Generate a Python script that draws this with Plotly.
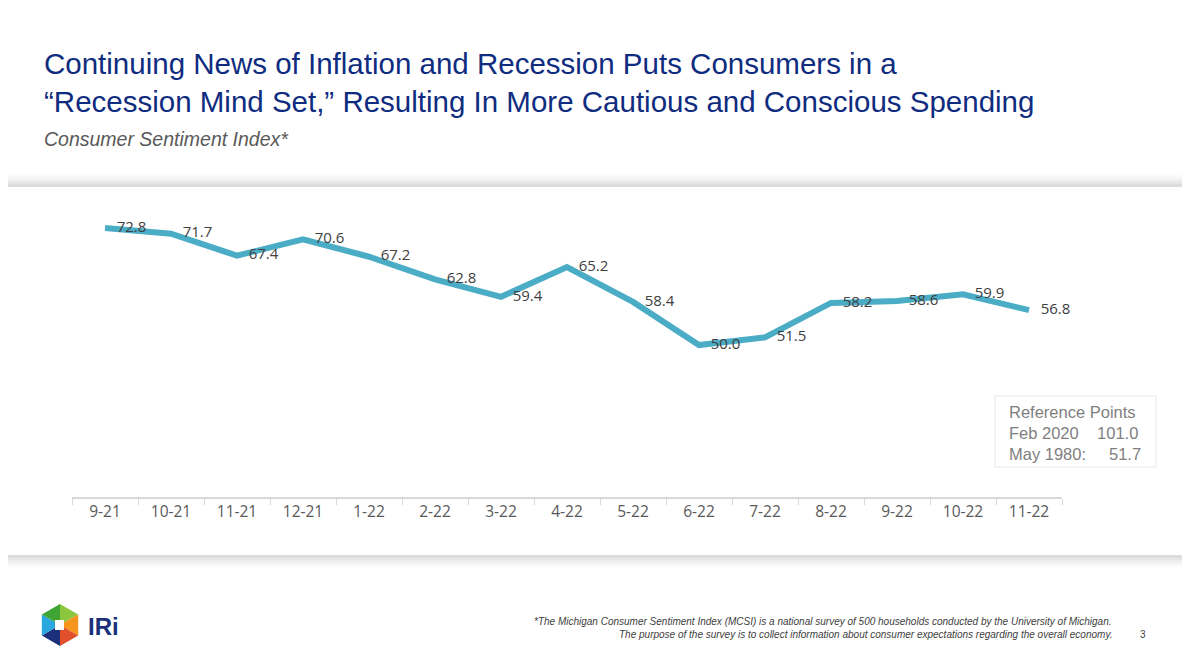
import plotly.graph_objects as go
import math

months = ["9-21","10-21","11-21","12-21","1-22","2-22","3-22","4-22","5-22","6-22","7-22","8-22","9-22","10-22","11-22"]
values = [72.8,71.7,67.4,70.6,67.2,62.8,59.4,65.2,58.4,50.0,51.5,58.2,58.6,59.9,56.8]
ref_labels = ["Reference Points", "Feb 2020&nbsp;&nbsp;&nbsp;&nbsp;101.0", "May 1980:&nbsp;&nbsp;&nbsp;&nbsp;&nbsp;51.7"]

W, H = 1174, 654
OFF = 8
def px(x): return (x - OFF) / W
def py(y): return 1 - (y - OFF) / H

fig = go.Figure()
fig.add_trace(go.Scatter(
    x=months, y=values, mode="lines+text",
    line=dict(color="#4BACC6", width=6),
    text=["\u00a0\u00a0\u00a0" + f"{v:.1f}" for v in values], textposition="middle right",
    textfont=dict(family="Open Sans", size=15, color="#404040"),
    cliponaxis=False, hoverinfo="skip"))

shapes = []
for i, op in enumerate([0.012, 0.015, 0.02, 0.025, 0.03, 0.035]):
    d = 12 - 2 * i
    shapes.append(dict(type="rect", xref="paper", yref="paper", x0=px(-10), x1=px(W + 20),
                       y0=py(556 + d), y1=py(186 - d), fillcolor="rgba(0,0,0,%s)" % op,
                       line=dict(width=0), layer="below"))
shapes.append(dict(type="rect", xref="paper", yref="paper", x0=px(-10), x1=px(W + 20),
                   y0=py(555), y1=py(187), fillcolor="white", line=dict(width=0), layer="below"))
shapes.append(dict(type="rect", xref="paper", yref="paper", x0=px(995), x1=px(1156),
                   y0=py(467), y1=py(396), fillcolor="white", line=dict(color="#E6E6E6", width=1)))
cx, cy, r = 60, 625, 21
cols = ["#8CC63F", "#F7941D", "#E0502A", "#1B2F7A", "#29A8E0", "#3FA535"]
for k in range(6):
    a0 = math.radians(60 * k - 90)
    a1 = math.radians(60 * k - 30)
    p0 = (cx + r * math.cos(a0), cy + r * math.sin(a0))
    p1 = (cx + r * math.cos(a1), cy + r * math.sin(a1))
    path = "M %f %f L %f %f L %f %f Z" % (px(cx), py(cy), px(p0[0]), py(p0[1]), px(p1[0]), py(p1[1]))
    shapes.append(dict(type="path", xref="paper", yref="paper", path=path, fillcolor=cols[k], line=dict(width=0)))
shapes.append(dict(type="rect", xref="paper", yref="paper", x0=px(55), x1=px(64), y0=py(630), y1=py(620),
                   fillcolor="white", line=dict(width=0)))

ann = [
    dict(x=px(42), y=py(64), text="Continuing News of Inflation and Recession Puts Consumers in a",
         font=dict(family="Liberation Sans", size=29.5, color="#0F2C80")),
    dict(x=px(42), y=py(101), text="“Recession Mind Set,” Resulting In More Cautious and Conscious Spending",
         font=dict(family="Liberation Sans", size=29.5, color="#0F2C80")),
    dict(x=px(42), y=py(139), text="<i>Consumer Sentiment Index*</i>",
         font=dict(family="Liberation Sans", size=19.5, color="#595959")),
    dict(x=px(1007), y=py(412), text=ref_labels[0], font=dict(family="Liberation Sans", size=16.5, color="#7F7F7F")),
    dict(x=px(1007), y=py(433), text=ref_labels[1], font=dict(family="Liberation Sans", size=16.5, color="#7F7F7F")),
    dict(x=px(1007), y=py(454), text=ref_labels[2], font=dict(family="Liberation Sans", size=16.5, color="#7F7F7F")),
    dict(x=px(86), y=py(626), text="<b>IRi</b>", font=dict(family="Liberation Sans", size=24, color="#1B2F7A")),
    dict(x=px(1114), y=py(621), xanchor="right", text="<i>*The Michigan Consumer Sentiment Index (MCSI) is a national survey of 500 households conducted by the University of Michigan.</i>",
         font=dict(family="Liberation Sans", size=10, color="#404040")),
    dict(x=px(1114), y=py(634), xanchor="right", text="<i>The purpose of the survey is to collect information about consumer expectations regarding the overall economy.</i>",
         font=dict(family="Liberation Sans", size=10, color="#404040")),
    dict(x=px(1148), y=py(634), xanchor="right", text="3", font=dict(family="Liberation Sans", size=10, color="#404040")),
]
for a in ann:
    a.setdefault("xanchor", "left")
    a.update(xref="paper", yref="paper", yanchor="middle", showarrow=False)

fig.update_layout(
    width=W, height=H, margin=dict(l=0, r=0, t=0, b=0),
    paper_bgcolor="white", plot_bgcolor="rgba(0,0,0,0)", showlegend=False,
    shapes=shapes, annotations=ann,
    xaxis=dict(domain=[px(72), px(1062)], range=[-0.5, 14.5], showgrid=False, showline=True,
               linecolor="#D9D9D9", linewidth=1.5, ticks="outside", tickcolor="#D9D9D9", ticklen=6,
               tickson="boundaries",
               tickfont=dict(family="Open Sans", size=15.5, color="#595959"), fixedrange=True),
    yaxis=dict(domain=[py(497), py(190)], range=[20.4, 80.2], visible=False, fixedrange=True),
)
fig.write_html("out.html")
